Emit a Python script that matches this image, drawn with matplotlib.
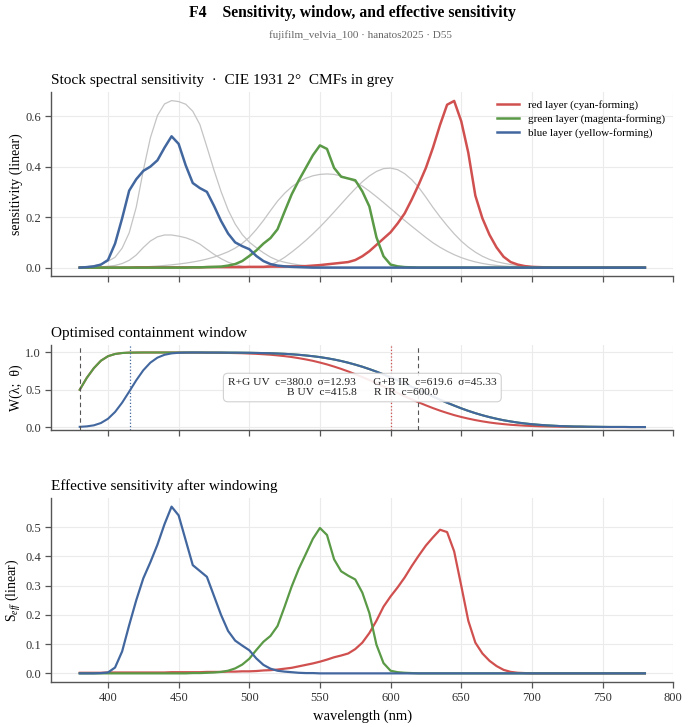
import matplotlib
matplotlib.use("Agg")
import matplotlib.pyplot as plt
import numpy as np

plt.rcParams["font.family"] = ["Liberation Serif", "DejaVu Serif"]
plt.rcParams["mathtext.fontset"] = "custom"
plt.rcParams["mathtext.rm"] = "Liberation Serif"
plt.rcParams["mathtext.it"] = "Liberation Serif:italic"

# wavelength grid of all series (nm)
WL = np.arange(380, 781, 5)

# stock spectral sensitivity
STOCK_RED = [
    0.000, 0.000, 0.000, 0.000, 0.000, 0.000, 0.000, 0.000, 0.001, 0.001,
    0.001, 0.001, 0.001, 0.001, 0.001, 0.001, 0.001, 0.001, 0.002, 0.002,
    0.002, 0.002, 0.002, 0.002, 0.003, 0.003, 0.003, 0.004, 0.004, 0.004,
    0.005, 0.005, 0.006, 0.008, 0.010, 0.013, 0.016, 0.019, 0.022, 0.030,
    0.045, 0.065, 0.090, 0.115, 0.140, 0.175, 0.215, 0.270, 0.330, 0.395,
    0.475, 0.565, 0.645, 0.660, 0.580, 0.455, 0.285, 0.195, 0.130, 0.080,
    0.043, 0.022, 0.012, 0.006, 0.003, 0.002, 0.001, 0.000, 0.000, 0.000,
    0.000, 0.000, 0.000, 0.000, 0.000, 0.000, 0.000, 0.000, 0.000, 0.000,
    0.000,
]
STOCK_GREEN = [
    0.000, 0.000, 0.000, 0.000, 0.000, 0.000, 0.000, 0.000, 0.000, 0.000,
    0.000, 0.000, 0.000, 0.000, 0.000, 0.000, 0.001, 0.001, 0.002, 0.003,
    0.004, 0.008, 0.014, 0.026, 0.046, 0.068, 0.095, 0.117, 0.152, 0.222,
    0.290, 0.345, 0.395, 0.445, 0.484, 0.470, 0.395, 0.360, 0.353, 0.346,
    0.302, 0.242, 0.120, 0.045, 0.012, 0.005, 0.002, 0.001, 0.000, 0.000,
    0.000, 0.000, 0.000, 0.000, 0.000, 0.000, 0.000, 0.000, 0.000, 0.000,
    0.000, 0.000, 0.000, 0.000, 0.000, 0.000, 0.000, 0.000, 0.000, 0.000,
    0.000, 0.000, 0.000, 0.000, 0.000, 0.000, 0.000, 0.000, 0.000, 0.000,
    0.000,
]
STOCK_BLUE = [
    0.000, 0.002, 0.005, 0.012, 0.030, 0.095, 0.195, 0.305, 0.350, 0.383,
    0.400, 0.425, 0.475, 0.520, 0.490, 0.405, 0.335, 0.315, 0.300, 0.245,
    0.185, 0.135, 0.100, 0.085, 0.073, 0.046, 0.026, 0.014, 0.008, 0.005,
    0.003, 0.002, 0.001, 0.000, 0.000, 0.000, 0.000, 0.000, 0.000, 0.000,
    0.000, 0.000, 0.000, 0.000, 0.000, 0.000, 0.000, 0.000, 0.000, 0.000,
    0.000, 0.000, 0.000, 0.000, 0.000, 0.000, 0.000, 0.000, 0.000, 0.000,
    0.000, 0.000, 0.000, 0.000, 0.000, 0.000, 0.000, 0.000, 0.000, 0.000,
    0.000, 0.000, 0.000, 0.000, 0.000, 0.000, 0.000, 0.000, 0.000, 0.000,
    0.000,
]

# CIE 1931 2deg colour matching functions (5 nm table); drawn in grey,
# scaled so that z-bar peaks at the stock's peak height
CMF_SCALE = 0.371
CMF_X = [
    0.001368, 0.002236, 0.004243, 0.007650, 0.014310, 0.023190, 0.043510, 0.077630,
    0.134380, 0.214770, 0.283900, 0.328500, 0.348280, 0.348060, 0.336200, 0.318700,
    0.290800, 0.251100, 0.195360, 0.142100, 0.095640, 0.057950, 0.032010, 0.014700,
    0.004900, 0.002400, 0.009300, 0.029100, 0.063270, 0.109600, 0.165500, 0.225750,
    0.290400, 0.359700, 0.433450, 0.512050, 0.594500, 0.678400, 0.762100, 0.842500,
    0.916300, 0.978600, 1.026300, 1.056700, 1.062200, 1.045600, 1.002600, 0.938400,
    0.854450, 0.751400, 0.642400, 0.541900, 0.447900, 0.360800, 0.283500, 0.218700,
    0.164900, 0.121200, 0.087400, 0.063600, 0.046770, 0.032900, 0.022700, 0.015840,
    0.011359, 0.008111, 0.005790, 0.004109, 0.002899, 0.002049, 0.001440, 0.000999,
    0.000690, 0.000476, 0.000332, 0.000235, 0.000166, 0.000117, 0.000083, 0.000059,
    0.000042,
]
CMF_Y = [
    0.000039, 0.000064, 0.000120, 0.000217, 0.000396, 0.000640, 0.001210, 0.002180,
    0.004000, 0.007300, 0.011600, 0.016840, 0.023000, 0.029800, 0.038000, 0.048000,
    0.060000, 0.073900, 0.090980, 0.112600, 0.139020, 0.169300, 0.208020, 0.258600,
    0.323000, 0.407300, 0.503000, 0.608200, 0.710000, 0.793200, 0.862000, 0.914850,
    0.954000, 0.980300, 0.994950, 1.000000, 0.995000, 0.978600, 0.952000, 0.915400,
    0.870000, 0.816300, 0.757000, 0.694900, 0.631000, 0.566800, 0.503000, 0.441200,
    0.381000, 0.321000, 0.265000, 0.217000, 0.175000, 0.138200, 0.107000, 0.081600,
    0.061000, 0.044580, 0.032000, 0.023200, 0.017000, 0.011920, 0.008210, 0.005723,
    0.004102, 0.002929, 0.002091, 0.001484, 0.001047, 0.000740, 0.000520, 0.000361,
    0.000249, 0.000172, 0.000120, 0.000085, 0.000060, 0.000042, 0.000030, 0.000021,
    0.000015,
]
CMF_Z = [
    0.006450, 0.010550, 0.020050, 0.036210, 0.067850, 0.110200, 0.207400, 0.371300,
    0.645600, 1.039050, 1.385600, 1.622960, 1.747060, 1.782600, 1.772110, 1.744100,
    1.669200, 1.528100, 1.287640, 1.041900, 0.812950, 0.616200, 0.465180, 0.353300,
    0.272000, 0.212300, 0.158200, 0.111700, 0.078250, 0.057250, 0.042160, 0.029840,
    0.020300, 0.013400, 0.008750, 0.005750, 0.003900, 0.002750, 0.002100, 0.001800,
    0.001650, 0.001400, 0.001100, 0.001000, 0.000800, 0.000600, 0.000340, 0.000240,
    0.000190, 0.000100, 0.000050, 0.000030, 0.000020, 0.000010, 0.000000, 0.000000,
    0.000000, 0.000000, 0.000000, 0.000000, 0.000000, 0.000000, 0.000000, 0.000000,
    0.000000, 0.000000, 0.000000, 0.000000, 0.000000, 0.000000, 0.000000, 0.000000,
    0.000000, 0.000000, 0.000000, 0.000000, 0.000000, 0.000000, 0.000000, 0.000000,
    0.000000,
]

# optimised containment window per layer
WIN_RED = [
    0.500, 0.660, 0.790, 0.890, 0.950, 0.980, 0.993, 0.998, 0.999, 1.000,
    1.000, 1.000, 1.000, 1.000, 1.000, 0.999, 0.999, 0.998, 0.998, 0.997,
    0.996, 0.994, 0.992, 0.990, 0.986, 0.982, 0.976, 0.970, 0.961, 0.951,
    0.939, 0.924, 0.907, 0.888, 0.865, 0.840, 0.811, 0.780, 0.746, 0.709,
    0.670, 0.630, 0.587, 0.544, 0.500, 0.456, 0.413, 0.370, 0.330, 0.291,
    0.254, 0.220, 0.189, 0.160, 0.135, 0.113, 0.093, 0.076, 0.061, 0.049,
    0.039, 0.030, 0.024, 0.018, 0.014, 0.010, 0.008, 0.006, 0.004, 0.003,
    0.002, 0.002, 0.001, 0.001, 0.000, 0.000, 0.000, 0.000, 0.000, 0.000,
    0.000,
]
WIN_GREEN = [
    0.500, 0.660, 0.790, 0.890, 0.950, 0.980, 0.993, 0.998, 0.999, 1.000,
    1.000, 1.000, 1.000, 1.000, 1.000, 1.000, 1.000, 1.000, 0.999, 0.999,
    0.999, 0.998, 0.998, 0.997, 0.996, 0.994, 0.992, 0.990, 0.986, 0.982,
    0.976, 0.969, 0.960, 0.950, 0.938, 0.923, 0.906, 0.886, 0.863, 0.837,
    0.809, 0.777, 0.743, 0.706, 0.667, 0.626, 0.584, 0.540, 0.496, 0.453,
    0.409, 0.367, 0.326, 0.288, 0.251, 0.217, 0.186, 0.158, 0.133, 0.111,
    0.091, 0.075, 0.060, 0.048, 0.038, 0.030, 0.023, 0.018, 0.013, 0.010,
    0.007, 0.006, 0.004, 0.003, 0.002, 0.001, 0.001, 0.001, 0.000, 0.000,
    0.000,
]
WIN_BLUE = [
    0.003, 0.009, 0.023, 0.054, 0.111, 0.202, 0.327, 0.475, 0.627, 0.762,
    0.864, 0.931, 0.969, 0.988, 0.996, 0.999, 1.000, 1.000, 0.999, 0.999,
    0.999, 0.998, 0.998, 0.997, 0.996, 0.994, 0.992, 0.990, 0.986, 0.982,
    0.976, 0.969, 0.960, 0.950, 0.938, 0.923, 0.906, 0.886, 0.863, 0.837,
    0.809, 0.777, 0.743, 0.706, 0.667, 0.626, 0.584, 0.540, 0.496, 0.453,
    0.409, 0.367, 0.326, 0.288, 0.251, 0.217, 0.186, 0.158, 0.133, 0.111,
    0.091, 0.075, 0.060, 0.048, 0.038, 0.030, 0.023, 0.018, 0.013, 0.010,
    0.007, 0.006, 0.004, 0.003, 0.002, 0.001, 0.001, 0.001, 0.000, 0.000,
    0.000,
]

# window parameters
UV_NAMES = ["R+G UV", "B UV"]
UV_CENTERS = [380.0, 415.8]
UV_SIGMA = 12.93
IR_NAMES = ["G+B IR", "R IR"]
IR_CENTERS = [619.6, 600.0]
IR_SIGMA = 45.33

# effective sensitivity after windowing
EFF_RED = [
    0.002, 0.002, 0.002, 0.002, 0.003, 0.003, 0.003, 0.003, 0.003, 0.003,
    0.003, 0.003, 0.003, 0.004, 0.004, 0.004, 0.004, 0.004, 0.005, 0.005,
    0.005, 0.006, 0.006, 0.007, 0.007, 0.008, 0.010, 0.011, 0.013, 0.016,
    0.019, 0.024, 0.029, 0.034, 0.040, 0.047, 0.055, 0.061, 0.068, 0.083,
    0.105, 0.138, 0.180, 0.228, 0.263, 0.294, 0.328, 0.367, 0.403, 0.437,
    0.465, 0.491, 0.483, 0.417, 0.300, 0.180, 0.105, 0.068, 0.043, 0.025,
    0.012, 0.005, 0.002, 0.001, 0.000, 0.000, 0.000, 0.000, 0.000, 0.000,
    0.000, 0.000, 0.000, 0.000, 0.000, 0.000, 0.000, 0.000, 0.000, 0.000,
    0.000,
]
EFF_GREEN = [
    0.000, 0.000, 0.000, 0.000, 0.000, 0.000, 0.000, 0.000, 0.000, 0.000,
    0.000, 0.000, 0.000, 0.000, 0.000, 0.000, 0.001, 0.001, 0.002, 0.003,
    0.005, 0.009, 0.017, 0.030, 0.050, 0.080, 0.108, 0.128, 0.162, 0.228,
    0.297, 0.357, 0.408, 0.460, 0.497, 0.473, 0.390, 0.349, 0.334, 0.321,
    0.276, 0.206, 0.098, 0.035, 0.009, 0.004, 0.002, 0.001, 0.000, 0.000,
    0.000, 0.000, 0.000, 0.000, 0.000, 0.000, 0.000, 0.000, 0.000, 0.000,
    0.000, 0.000, 0.000, 0.000, 0.000, 0.000, 0.000, 0.000, 0.000, 0.000,
    0.000, 0.000, 0.000, 0.000, 0.000, 0.000, 0.000, 0.000, 0.000, 0.000,
    0.000,
]
EFF_BLUE = [
    0.000, 0.000, 0.000, 0.001, 0.003, 0.020, 0.075, 0.165, 0.250, 0.325,
    0.380, 0.440, 0.510, 0.570, 0.540, 0.455, 0.370, 0.350, 0.330, 0.265,
    0.200, 0.145, 0.112, 0.095, 0.079, 0.051, 0.029, 0.016, 0.009, 0.006,
    0.004, 0.002, 0.001, 0.001, 0.000, 0.000, 0.000, 0.000, 0.000, 0.000,
    0.000, 0.000, 0.000, 0.000, 0.000, 0.000, 0.000, 0.000, 0.000, 0.000,
    0.000, 0.000, 0.000, 0.000, 0.000, 0.000, 0.000, 0.000, 0.000, 0.000,
    0.000, 0.000, 0.000, 0.000, 0.000, 0.000, 0.000, 0.000, 0.000, 0.000,
    0.000, 0.000, 0.000, 0.000, 0.000, 0.000, 0.000, 0.000, 0.000, 0.000,
    0.000,
]

LAYER_LABELS = [
    "red layer (cyan-forming)",
    "green layer (magenta-forming)",
    "blue layer (yellow-forming)",
]
RED, GREEN, BLUE = "#d0504f", "#5a9a46", "#42679f"
GRID = "#ebebeb"
SPINE = "#555555"


def style_axis(ax, show_xlabels=False):
    for side in ("top", "right"):
        ax.spines[side].set_visible(False)
    for side in ("left", "bottom"):
        ax.spines[side].set_color(SPINE)
        ax.spines[side].set_linewidth(1.0)
    ax.set_xlim(360, 800)
    ax.set_xticks(np.arange(400, 801, 50))
    ax.grid(True, color=GRID, linewidth=0.8)
    ax.set_axisbelow(True)
    ax.tick_params(direction="out", length=4, width=0.9, color=SPINE,
                   labelsize=9, labelcolor="#333333")
    if not show_xlabels:
        ax.tick_params(axis="x", labelbottom=False)
    ax.yaxis.set_label_coords(-0.046, 0.5)


fig = plt.figure(figsize=(6.9, 7.27), dpi=100)
ax1 = fig.add_axes([0.0746, 0.6204, 0.901, 0.2527])
ax2 = fig.add_axes([0.0746, 0.4085, 0.901, 0.1169])
ax3 = fig.add_axes([0.0746, 0.0623, 0.901, 0.2523])

# --- stock sensitivity
for cmf in (CMF_X, CMF_Y, CMF_Z):
    ax1.plot(WL, np.asarray(cmf) * CMF_SCALE, color="#c4c4c4", linewidth=0.9)
for values, color, label in zip((STOCK_RED, STOCK_GREEN, STOCK_BLUE),
                                (RED, GREEN, BLUE), LAYER_LABELS):
    ax1.plot(WL, values, color=color, linewidth=1.8, label=label)
style_axis(ax1)
ax1.set_yticks([0.0, 0.2, 0.4, 0.6])
ax1.set_ylabel("sensitivity (linear)", fontsize=10)
ax1.set_title("Stock spectral sensitivity  \u00b7  CIE 1931 2\u00b0  CMFs in grey",
              loc="left", fontsize=11)
ax1.legend(loc="upper right", frameon=False, fontsize=8, handlelength=2.0,
           borderaxespad=0.3, labelspacing=0.35)

# --- containment window
for values, color in zip((WIN_RED, WIN_GREEN, WIN_BLUE), (RED, GREEN, BLUE)):
    ax2.plot(WL, values, color=color, linewidth=1.5)
ax2.axvline(UV_CENTERS[0], color="#555555", linestyle=(0, (4, 3)), linewidth=0.8)
ax2.axvline(UV_CENTERS[1], color=BLUE, linestyle=":", linewidth=0.9)
ax2.axvline(IR_CENTERS[0], color="#555555", linestyle=(0, (4, 3)), linewidth=0.8)
ax2.axvline(IR_CENTERS[1], color=RED, linestyle=":", linewidth=0.9)
style_axis(ax2)
ax2.set_ylim(-0.04, 1.1)
ax2.set_yticks([0.0, 0.5, 1.0])
ax2.set_ylabel("W(\u03bb;  \u03b8)", fontsize=10)
ax2.set_title("Optimised containment window", loc="left", fontsize=11)
param_text = (
    f"{UV_NAMES[0]}  c={UV_CENTERS[0]:.1f}  \u03c3={UV_SIGMA:.2f}      "
    f"{IR_NAMES[0]}  c={IR_CENTERS[0]:.1f}  \u03c3={IR_SIGMA:.2f}\n"
    f"{UV_NAMES[1]}  c={UV_CENTERS[1]:.1f}      {IR_NAMES[1]}  c={IR_CENTERS[1]:.1f}"
)
ax2.text(0.5, 0.5, param_text, transform=ax2.transAxes, ha="center", va="center",
         multialignment="center", fontsize=8.2, color="#222222",
         bbox=dict(boxstyle="round,pad=0.4", facecolor="white", alpha=0.9,
                   edgecolor="#cccccc", linewidth=0.8))

# --- effective sensitivity
for values, color in zip((EFF_RED, EFF_GREEN, EFF_BLUE), (RED, GREEN, BLUE)):
    ax3.plot(WL, values, color=color, linewidth=1.6)
style_axis(ax3, show_xlabels=True)
ax3.set_yticks([0.0, 0.1, 0.2, 0.3, 0.4, 0.5])
ax3.set_ylabel("S$_{eff}$ (linear)", fontsize=10)
ax3.set_xlabel("wavelength (nm)", fontsize=10.5)
ax3.set_title("Effective sensitivity after windowing", loc="left", fontsize=11)

fig.text(0.511, 0.982, "F4    Sensitivity, window, and effective sensitivity",
         ha="center", va="center", fontsize=11.3, fontweight="bold")
fig.text(0.522, 0.951, "fujifilm_velvia_100 \u00b7 hanatos2025 \u00b7 D55",
         ha="center", va="center", fontsize=8, color="#666666")

fig.savefig("out.png", dpi=100, facecolor="white")
plt.close(fig)
